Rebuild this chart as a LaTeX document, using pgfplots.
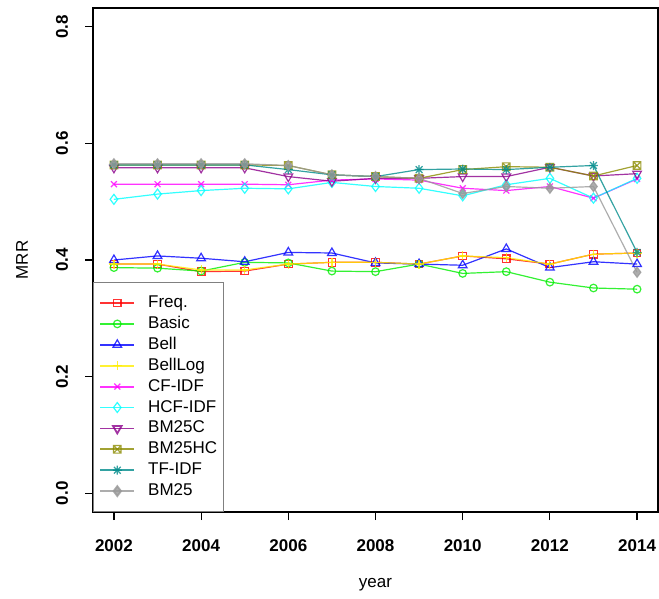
\documentclass[border=0pt]{standalone}
\usepackage{fontspec}
\setmainfont{Liberation Sans}
\usepackage{pgfplots}
\pgfplotsset{compat=1.18}
\definecolor{cFreq}{HTML}{FF0000}
\definecolor{cBasic}{HTML}{00EE00}
\definecolor{cBell}{HTML}{0000FF}
\definecolor{cBellLog}{HTML}{FFEE00}
\definecolor{cCF}{HTML}{FF00FF}
\definecolor{cHCF}{HTML}{00FFFF}
\definecolor{cBMC}{HTML}{8B008B}
\definecolor{cBMHC}{HTML}{8B8B00}
\definecolor{cTF}{HTML}{008B8B}
\definecolor{cBM}{HTML}{999999}
\pgfdeclareplotmark{boxx}{%
  \pgfpathrectangle{\pgfqpoint{-\pgfplotmarksize}{-\pgfplotmarksize}}{\pgfqpoint{2\pgfplotmarksize}{2\pgfplotmarksize}}%
  \pgfpathmoveto{\pgfqpoint{-\pgfplotmarksize}{-\pgfplotmarksize}}\pgfpathlineto{\pgfqpoint{\pgfplotmarksize}{\pgfplotmarksize}}%
  \pgfpathmoveto{\pgfqpoint{-\pgfplotmarksize}{\pgfplotmarksize}}\pgfpathlineto{\pgfqpoint{\pgfplotmarksize}{-\pgfplotmarksize}}%
  \pgfusepathqstroke}
\pgfdeclareplotmark{star8}{%
  \pgfpathmoveto{\pgfqpoint{-\pgfplotmarksize}{0pt}}\pgfpathlineto{\pgfqpoint{\pgfplotmarksize}{0pt}}%
  \pgfpathmoveto{\pgfqpoint{0pt}{-\pgfplotmarksize}}\pgfpathlineto{\pgfqpoint{0pt}{\pgfplotmarksize}}%
  \pgfpathmoveto{\pgfqpoint{-0.75\pgfplotmarksize}{-0.75\pgfplotmarksize}}\pgfpathlineto{\pgfqpoint{0.75\pgfplotmarksize}{0.75\pgfplotmarksize}}%
  \pgfpathmoveto{\pgfqpoint{-0.75\pgfplotmarksize}{0.75\pgfplotmarksize}}\pgfpathlineto{\pgfqpoint{0.75\pgfplotmarksize}{-0.75\pgfplotmarksize}}%
  \pgfusepathqstroke}
\pgfplotstableread{
year Freq Basic Bell BellLog CF HCF BMC BMHC TF BM
2002 0.393 0.387 0.400 0.393 0.530 0.504 0.558 0.563 0.563 0.565
2003 0.393 0.386 0.407 0.393 0.530 0.513 0.558 0.563 0.563 0.565
2004 0.380 0.381 0.403 0.383 0.530 0.519 0.558 0.563 0.563 0.565
2005 0.381 0.396 0.397 0.383 0.530 0.523 0.558 0.563 0.563 0.565
2006 0.393 0.395 0.413 0.393 0.529 0.522 0.543 0.562 0.555 0.562
2007 0.396 0.381 0.412 0.396 0.537 0.533 0.535 0.546 0.546 0.546
2008 0.396 0.380 0.395 0.396 0.539 0.526 0.540 0.543 0.543 0.543
2009 0.393 0.393 0.393 0.393 0.537 0.523 0.540 0.540 0.555 0.540
2010 0.407 0.377 0.391 0.407 0.523 0.510 0.543 0.555 0.556 0.514
2011 0.402 0.380 0.419 0.404 0.519 0.529 0.543 0.560 0.555 0.526
2012 0.393 0.362 0.387 0.393 0.526 0.540 0.559 0.559 0.559 0.523
2013 0.410 0.352 0.397 0.410 0.506 0.506 0.544 0.544 0.562 0.526
2014 0.412 0.350 0.393 0.412 0.539 0.540 0.548 0.562 0.413 0.379
}\datatable
\begin{document}
\begin{tikzpicture}[x=1pt,y=1pt]
\useasboundingbox (0,0) rectangle (659,598);
\begin{axis}[
  at={(93pt,86pt)}, anchor=south west,
  scale only axis, width=565pt, height=504pt,
  xmin=2001.52, xmax=2014.48, ymin=-0.032, ymax=0.832,
  xtick={2002,2004,...,2014}, ytick={0,0.2,0.4,0.6,0.8},
  xticklabel style={/pgf/number format/1000 sep={}},
  yticklabel style={/pgf/number format/fixed, /pgf/number format/fixed zerofill, /pgf/number format/precision=1, rotate=90, anchor=center, yshift=23pt},
  xticklabel style={anchor=center, yshift=-26pt},
  /pgf/number format/assume math mode=true,
  ticklabel style={font=\fontsize{17}{20}\selectfont\bfseries},
  tick align=outside, tick pos=left, major tick length=8pt,
  tick style={black, line width=1.2pt},
  axis line style={line width=1.4pt},
  xlabel={year}, ylabel={MRR},
  label style={font=\fontsize{17}{20}\selectfont},
  xlabel style={at={(axis description cs:0.5,-0.145)}, anchor=center},
  ylabel style={at={(axis description cs:-0.1257,0.5)}, anchor=center},
  every axis plot/.append style={line width=1.2pt, opacity=0.8, mark options={solid, line width=1.2pt}},
  legend cell align=left,
  legend image code/.code={\draw[mark repeat=2,mark phase=2,line width=1.8pt,#1] plot coordinates {(0pt,0pt) (17pt,0pt) (34pt,0pt)};},
  legend style={at={(0,0)}, anchor=south west, draw=gray, line width=0.8pt,
    font=\fontsize{17}{20}\selectfont, inner xsep=6pt, inner ysep=13pt,
    nodes={inner sep=0pt, text height=12pt, text depth=3pt},
    row sep=5.9pt, /tikz/every odd column/.append style={column sep=13pt}},
]
\addplot[color=cFreq, mark=square, mark size=3.8pt] table[x=year,y=Freq]{\datatable};
\addlegendentry{Freq.}
\addplot[color=cBasic, mark=o, mark size=3.8pt] table[x=year,y=Basic]{\datatable};
\addlegendentry{Basic}
\addplot[color=cBell, mark=triangle, mark size=5pt] table[x=year,y=Bell]{\datatable};
\addlegendentry{Bell}
\addplot[color=cBellLog, mark=+, mark size=4.5pt] table[x=year,y=BellLog]{\datatable};
\addlegendentry{BellLog}
\addplot[color=cCF, mark=x, mark size=4.2pt] table[x=year,y=CF]{\datatable};
\addlegendentry{CF-IDF}
\addplot[color=cHCF, mark=diamond, mark size=5pt] table[x=year,y=HCF]{\datatable};
\addlegendentry{HCF-IDF}
\addplot[color=cBMC, mark=triangle, mark size=5pt, mark options={rotate=180}] table[x=year,y=BMC]{\datatable};
\addlegendentry{BM25C}
\addplot[color=cBMHC, mark=boxx, mark size=3.8pt] table[x=year,y=BMHC]{\datatable};
\addlegendentry{BM25HC}
\addplot[color=cTF, mark=star8, mark size=4.5pt] table[x=year,y=TF]{\datatable};
\addlegendentry{TF-IDF}
\addplot[color=cBM, mark=diamond*, mark size=5pt, mark options={fill=cBM}] table[x=year,y=BM]{\datatable};
\addlegendentry{BM25}
\end{axis}
\end{tikzpicture}
\end{document}
